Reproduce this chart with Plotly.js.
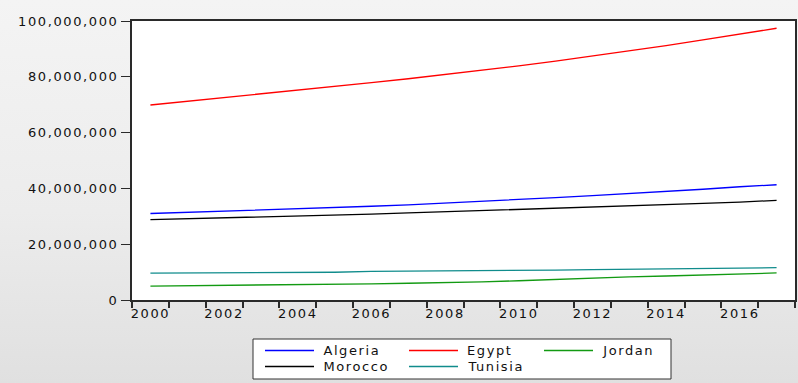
<!DOCTYPE html>
<html>
<head>
<meta charset="utf-8">
<script src="https://cdn.plot.ly/plotly-3.0.1.min.js"></script>
<style>
  html, body { margin: 0; padding: 0; }
  body {
    width: 798px; height: 383px; overflow: hidden;
    background: linear-gradient(to bottom, #f4f4f4 0%, #ececec 55%, #e0e0e0 100%);
  }
  #chart { width: 798px; height: 383px; }
  #chart text { letter-spacing: 1.6px; }
</style>
</head>
<body>
<div id="chart"></div>
<script>
// Annual population, 2000-2017
const years = [2000, 2001, 2002, 2003, 2004, 2005, 2006, 2007, 2008,
               2009, 2010, 2011, 2012, 2013, 2014, 2015, 2016, 2017];

const algeria = [31.0e6, 31.4e6, 31.8e6, 32.3e6, 32.7e6, 33.1e6, 33.6e6, 34.1e6, 34.7e6,
                 35.3e6, 36.0e6, 36.7e6, 37.4e6, 38.1e6, 38.9e6, 39.7e6, 40.6e6, 41.3e6];
const egypt   = [69.9e6, 71.2e6, 72.5e6, 73.8e6, 75.1e6, 76.5e6, 77.9e6, 79.3e6, 80.8e6,
                 82.3e6, 83.9e6, 85.6e6, 87.4e6, 89.3e6, 91.2e6, 93.2e6, 95.3e6, 97.4e6];
const jordan  = [5.0e6, 5.1e6, 5.3e6, 5.4e6, 5.5e6, 5.6e6, 5.8e6, 6.0e6, 6.2e6,
                 6.5e6, 6.9e6, 7.4e6, 7.9e6, 8.3e6, 8.6e6, 9.0e6, 9.4e6, 9.7e6];
const morocco = [28.8e6, 29.1e6, 29.4e6, 29.7e6, 30.0e6, 30.4e6, 30.8e6, 31.2e6, 31.6e6,
                 32.0e6, 32.4e6, 32.8e6, 33.2e6, 33.6e6, 34.1e6, 34.6e6, 35.1e6, 35.7e6];
const tunisia = [9.65e6, 9.70e6, 9.75e6, 9.80e6, 9.85e6, 9.95e6, 10.25e6, 10.30e6, 10.40e6,
                 10.50e6, 10.62e6, 10.73e6, 10.86e6, 10.98e6, 11.10e6, 11.22e6, 11.35e6, 11.60e6];

const seriesNames  = ['Algeria', 'Egypt', 'Jordan', 'Morocco', 'Tunisia'];
const seriesValues = [algeria, egypt, jordan, morocco, tunisia];
const seriesColors = ['#0000ff', '#ff0000', '#129a12', '#000000', '#108c8c'];

// Axis labels
const xTickYears  = [2000, 2002, 2004, 2006, 2008, 2010, 2012, 2014, 2016];
const xTickLabels = ['2000', '2002', '2004', '2006', '2008', '2010', '2012', '2014', '2016'];
const yTickVals   = [0, 20e6, 40e6, 60e6, 80e6, 100e6];
const yTickLabels = ['0', '20,000,000', '40,000,000', '60,000,000', '80,000,000', '100,000,000'];

// Year boundaries carry the tick marks; labels sit at the centre of each year
const yearEdges = years.map(y => y - 0.5).concat([years[years.length - 1] + 0.5]);
const xRange = [yearEdges[0], yearEdges[yearEdges.length - 1]];

const W = 798, H = 383;
const M = { l: 132, r: 3, t: 21, b: 83 };
const plotW = W - M.l - M.r, plotH = H - M.t - M.b;
// pixel -> paper coordinates, for the boxed legend under the plot
const px = v => (v - M.l) / plotW;
const py = v => (H - M.b - v) / plotH;

const LETTER_SPACING = 1.6; // must match the CSS rule above
const font = { family: 'DejaVu Sans, Verdana, sans-serif', size: 13, color: '#111111' };

const traces = seriesNames.map((name, i) => ({
  type: 'scatter', mode: 'lines', name: name,
  x: years, y: seriesValues[i],
  line: { color: seriesColors[i], width: 1.3 },
  hoverinfo: 'skip'
}));

// empty trace carrying the year-boundary tick axis
traces.push({ type: 'scatter', x: [], y: [], xaxis: 'x2', showlegend: false, hoverinfo: 'skip' });

// Legend: three columns, two rows, inside a framed white box
const legendBox = { x0: 253, x1: 671, y0: 339, y1: 379 };
const legendColX = [265, 409, 544];
const legendRowY = [350.5, 366.5];
const legendLineLen = 49, legendTextGap = 9;

const shapes = [{
  type: 'rect', xref: 'paper', yref: 'paper', layer: 'above',
  x0: px(legendBox.x0), x1: px(legendBox.x1), y0: py(legendBox.y0), y1: py(legendBox.y1),
  fillcolor: '#ffffff', line: { color: '#333333', width: 1 }
}];
const annotations = [];
seriesNames.forEach((name, i) => {
  const cx = legendColX[i % 3], cy = legendRowY[Math.floor(i / 3)];
  shapes.push({
    type: 'line', xref: 'paper', yref: 'paper', layer: 'above',
    x0: px(cx), x1: px(cx + legendLineLen), y0: py(cy), y1: py(cy),
    line: { color: seriesColors[i], width: 1.3 }
  });
  // annotation text is centred, so the extra letter spacing spreads to both sides
  const spread = name.length * LETTER_SPACING / 2;
  annotations.push({
    xref: 'paper', yref: 'paper', showarrow: false,
    x: px(cx + legendLineLen + legendTextGap - 2 + spread), y: py(cy),
    xanchor: 'left', yanchor: 'middle',
    text: name, font: font
  });
});

const layout = {
  width: W, height: H,
  margin: M,
  paper_bgcolor: 'rgba(0,0,0,0)',
  plot_bgcolor: '#ffffff',
  font: font,
  showlegend: false,
  shapes: shapes,
  annotations: annotations,
  xaxis: {
    range: xRange,
    tickmode: 'array', tickvals: xTickYears, ticktext: xTickLabels,
    ticks: '', showgrid: false, zeroline: false,
    showline: true, linecolor: '#2a2a2a', linewidth: 2, mirror: true,
    tickfont: font, fixedrange: true
  },
  xaxis2: {
    overlaying: 'x', anchor: 'y', side: 'bottom',
    range: xRange,
    tickmode: 'array', tickvals: yearEdges,
    ticks: 'outside', ticklen: 7, tickwidth: 2, tickcolor: '#2a2a2a',
    showticklabels: false, showgrid: false, zeroline: false, showline: false,
    fixedrange: true
  },
  yaxis: {
    range: [0, 100e6],
    tickmode: 'array', tickvals: yTickVals, ticktext: yTickLabels,
    ticks: 'outside', ticklen: 9, tickwidth: 1, tickcolor: '#2a2a2a',
    showgrid: false, zeroline: false,
    showline: true, linecolor: '#2a2a2a', linewidth: 2, mirror: true,
    tickfont: font, fixedrange: true
  }
};

Plotly.newPlot('chart', traces, layout, { staticPlot: true, displayModeBar: false });
</script>
</body>
</html>
